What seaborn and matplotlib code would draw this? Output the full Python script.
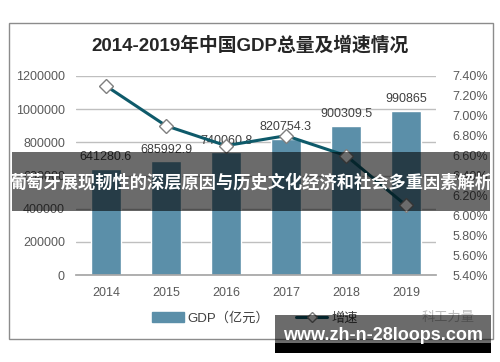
import matplotlib
matplotlib.use("Agg")
import matplotlib.pyplot as plt
import seaborn as sns
import pandas as pd
from matplotlib.patches import Rectangle, Patch
from matplotlib.lines import Line2D
from matplotlib.ticker import FuncFormatter

# chart data
years = ["2014", "2015", "2016", "2017", "2018", "2019"]
gdp = [641280.6, 685992.9, 740060.8, 820754.3, 900309.5, 990865]
growth = [7.3, 6.9, 6.7, 6.8, 6.6, 6.1]
gdp_label_text = ["641280.6", "685992.9", "740060.8", "820754.3", "900309.5", "990865"]

title = "2014-2019年中国GDP总量及增速情况"
overlay_text = "葡萄牙展现韧性的深层原因与历史文化经济和社会多重因素解析"
site_text = "www.zh-n-28loops.com"

BAR = "#5b8fa9"
LINE = "#0e5a6a"
TXT = "#595959"

sns.set_theme(style="white")
plt.rcParams["font.family"] = ["Liberation Sans", "Noto Sans CJK SC", "DejaVu Sans"]

W, H = 500, 362
fig = plt.figure(figsize=(W / 100, H / 100), dpi=100)

def fx(px):
    return px / W

def fy(py):
    return 1 - py / H

# outer frame
fig.patches.append(Rectangle((fx(9), fy(339)), fx(493) - fx(9), fy(23) - fy(339),
                             transform=fig.transFigure, fill=False, ec="#8c8c8c", lw=1))

fig.text(0.5, fy(45), title, ha="center", va="center", fontsize=13.5,
         fontweight="bold", color="#262626")

ax = fig.add_axes([fx(76), fy(275), fx(436) - fx(76), (275 - 76) / H])
df = pd.DataFrame({"year": years, "gdp": gdp, "growth": growth})

sns.barplot(data=df, x="year", y="gdp", color=BAR, width=0.5, saturation=1, ax=ax)
ax.set_ylim(0, 1200000)
ax.set_yticks(range(0, 1200001, 200000))
ax.yaxis.set_major_formatter(FuncFormatter(lambda v, p: f"{int(v)}"))
ax.grid(axis="y", color="#bfbfbf", lw=1)
ax.set_axisbelow(True)
for s in ["left", "right", "top"]:
    ax.spines[s].set_visible(False)
ax.spines["bottom"].set_color("#a6a6a6")
ax.set_xlabel("")
ax.set_ylabel("")
ax.tick_params(axis="y", length=0, pad=8, labelsize=9, labelcolor=TXT)
ax.tick_params(axis="x", length=0, pad=9, labelsize=9, labelcolor=TXT)

for i, t in enumerate(gdp_label_text):
    ax.annotate(t, (i, gdp[i]), xytext=(0, 4), textcoords="offset points",
                ha="center", va="bottom", fontsize=9, color="#404040")

ax2 = ax.twinx()
sns.pointplot(data=df, x="year", y="growth", color=LINE, markers="D", ax=ax2,
              linewidth=2.2, markersize=7, markerfacecolor="white",
              markeredgecolor="#7f7f7f", markeredgewidth=1)
ax2.set_ylim(5.4, 7.4)
ax2.set_yticks([5.4 + 0.2 * k for k in range(11)])
ax2.yaxis.set_major_formatter(FuncFormatter(lambda v, p: f"{v:.2f}%"))
for s in ["left", "right", "top", "bottom"]:
    ax2.spines[s].set_visible(False)
ax2.set_xlabel("")
ax2.set_ylabel("")
ax2.tick_params(axis="y", length=0, pad=12, labelsize=9, labelcolor=TXT)
ax2.set_xlim(-0.5, 5.5)

handles = [Patch(color=BAR),
           Line2D([0], [0], color=LINE, lw=2.2, marker="D", markersize=5,
                  markerfacecolor="white", markeredgecolor="#7f7f7f")]
fig.legend(handles, ["GDP（亿元）", "增速"], loc="center", bbox_to_anchor=(fx(255), fy(318)),
           ncol=2, frameon=False, fontsize=9.5, handlelength=2.4, handleheight=0.8,
           columnspacing=2.0, handletextpad=0.3, labelcolor="#404040")
fig.text(fx(448), fy(318), "科工力量", ha="center", va="center", fontsize=9.5, color="#bdbdbd")

# dark overlay band with headline
fig.patches.append(Rectangle((fx(12), fy(211)), fx(490) - fx(12), fy(152) - fy(211),
                             transform=fig.transFigure, color="black", alpha=0.58, lw=0, zorder=10))
fig.text(fx(251), fy(182), overlay_text, ha="center", va="center", fontsize=12.4,
         fontweight="bold", color="white", zorder=11)

# site watermark box
fig.patches.append(Rectangle((fx(275), fy(343)), fx(491) - fx(275), fy(315) - fy(343),
                             transform=fig.transFigure, color="black", alpha=0.58, lw=0, zorder=10))
fig.patches.append(Rectangle((fx(275), fy(353)), fx(491) - fx(275), fy(343) - fy(353),
                             transform=fig.transFigure, color="black", lw=0, zorder=10))
fig.text(fx(383), fy(336), site_text, ha="center", va="center", fontsize=13,
         fontweight="bold", color="white", zorder=11)

fig.savefig("out.png", dpi=100)
